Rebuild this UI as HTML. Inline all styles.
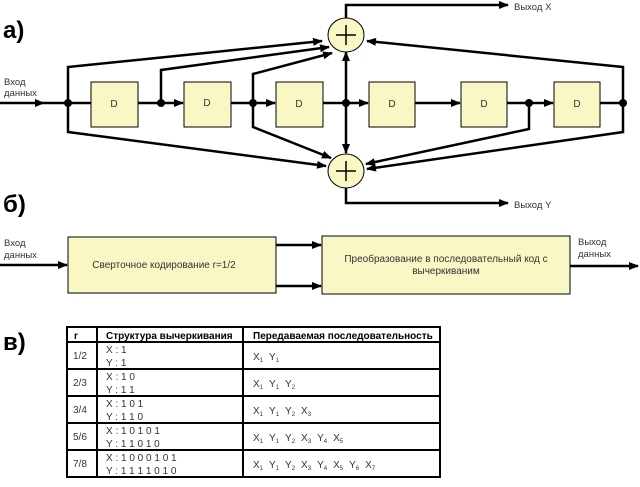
<!DOCTYPE html>
<html><head><meta charset="utf-8"><style>
body{margin:0;background:#fff;width:640px;height:482px;overflow:hidden}
svg text{font-family:"Liberation Sans",sans-serif}
</style></head><body>
<svg width="640" height="482" viewBox="0 0 640 482" xmlns="http://www.w3.org/2000/svg">
<defs><marker id="a" markerWidth="10" markerHeight="8" refX="9" refY="4" orient="auto" markerUnits="userSpaceOnUse"><path d="M0,0 L10,4 L0,8 z" fill="#000"/></marker></defs>
<g font-weight="bold" font-size="24" fill="#000">
<text x="3" y="38">а)</text><text x="3" y="212">б)</text><text x="3" y="350">в)</text></g>
<g stroke="#000" stroke-width="2.5" fill="none">
<line x1="0" y1="103" x2="44" y2="103" marker-end="url(#a)"/>
<line x1="44" y1="103" x2="91" y2="103"/>
<line x1="138" y1="103" x2="183" y2="103" marker-end="url(#a)"/>
<line x1="231" y1="103" x2="275" y2="103" marker-end="url(#a)"/>
<line x1="323" y1="103" x2="368" y2="103" marker-end="url(#a)"/>
<line x1="415" y1="103" x2="460" y2="103" marker-end="url(#a)"/>
<line x1="507" y1="103" x2="553" y2="103" marker-end="url(#a)"/>
<line x1="600" y1="103" x2="623" y2="103"/>
<polyline points="68,103 68,67 322,41" marker-end="url(#a)"/>
<polyline points="161,103 161,70 329,47" marker-end="url(#a)"/>
<polyline points="253,103 253,74 332,53" marker-end="url(#a)"/>
<polyline points="623,103 623,67 367,41" marker-end="url(#a)"/>
<line x1="346" y1="103" x2="346" y2="52" marker-end="url(#a)"/>
<line x1="346" y1="103" x2="346" y2="153" marker-end="url(#a)"/>
<polyline points="68,103 68,132 326,166" marker-end="url(#a)"/>
<polyline points="253,103 253,127 331,158" marker-end="url(#a)"/>
<polyline points="529,103 529,129 366,164" marker-end="url(#a)"/>
<polyline points="623,103 623,132 367,169" marker-end="url(#a)"/>
<polyline points="346,18 346,5 508,5" marker-end="url(#a)"/>
<polyline points="346,187 346,203 508,203" marker-end="url(#a)"/>
</g>
<g fill="#000"><circle cx="68" cy="103" r="4"/><circle cx="161" cy="103" r="4"/><circle cx="253" cy="103" r="4"/><circle cx="346" cy="103" r="4"/><circle cx="529" cy="103" r="4"/><circle cx="623" cy="103" r="4"/></g>
<g fill="#f9f7c4" stroke="#000" stroke-width="1">
<rect x="91" y="82" width="47" height="45"/><rect x="184" y="82" width="47" height="45"/><rect x="276" y="82" width="47" height="45"/><rect x="369" y="82" width="46" height="45"/><rect x="461" y="82" width="46" height="45"/><rect x="554" y="82" width="46" height="45"/>
<ellipse cx="346" cy="35" rx="18" ry="17"/><ellipse cx="346" cy="171" rx="18" ry="17"/>
</g>
<g stroke="#000" stroke-width="1.5"><line x1="336" y1="35" x2="356" y2="35"/><line x1="346" y1="25" x2="346" y2="45"/><line x1="336" y1="171" x2="356" y2="171"/><line x1="346" y1="161" x2="346" y2="181"/></g>
<g font-size="10" fill="#333" text-anchor="middle">
<text x="114" y="107">D</text><text x="207" y="106">D</text><text x="299" y="107">D</text><text x="392" y="107">D</text><text x="484" y="107">D</text><text x="577" y="107">D</text></g>
<g font-size="9.5" fill="#333">
<text x="4" y="85">Вход</text><text x="4" y="96">данных</text>
<text x="514" y="10">Выход X</text><text x="514" y="208">Выход Y</text>
<text x="4" y="246">Вход</text><text x="4" y="258">данных</text>
<text x="578" y="245">Выход</text><text x="578" y="257">данных</text>
</g>
<g stroke="#000" stroke-width="2.5" fill="none">
<line x1="0" y1="265" x2="67" y2="265" marker-end="url(#a)"/>
<line x1="276" y1="245" x2="321" y2="245" marker-end="url(#a)"/>
<line x1="276" y1="286" x2="321" y2="286" marker-end="url(#a)"/>
<line x1="570" y1="266" x2="638" y2="266" marker-end="url(#a)"/>
</g>
<g fill="#f9f7c4" stroke="#000" stroke-width="1"><rect x="68" y="237" width="208" height="56"/><rect x="322" y="236" width="248" height="58"/></g>
<g font-size="10" fill="#333" text-anchor="middle">
<text x="164" y="268">Сверточное кодирование  r=1/2</text>
<text x="446" y="262">Преобразование в последовательный код с</text>
<text x="446" y="274">вычеркиваним</text>
</g>
<g stroke="#000" stroke-width="2" fill="none">
<rect x="67" y="327" width="373" height="150"/>
<line x1="97" y1="327" x2="97" y2="477"/><line x1="243" y1="327" x2="243" y2="477"/>
<line x1="67" y1="342" x2="440" y2="342"/><line x1="67" y1="369" x2="440" y2="369"/><line x1="67" y1="396" x2="440" y2="396"/><line x1="67" y1="423" x2="440" y2="423"/><line x1="67" y1="450" x2="440" y2="450"/>
</g>
<g font-size="10" fill="#000">
<text x="74" y="339" font-weight="bold">r</text>
<text x="106" y="339" font-weight="bold">Структура вычеркивания</text>
<text x="253" y="339" font-weight="bold">Передаваемая последовательность</text>
<g fill="#333">
<text x="73" y="359">1/2</text><text x="73" y="386">2/3</text><text x="73" y="413">3/4</text><text x="73" y="440">5/6</text><text x="73" y="467">7/8</text>
<text x="106" y="353">X : 1</text><text x="106" y="366">Y : 1</text>
<text x="106" y="380">X : 1 0</text><text x="106" y="393">Y : 1 1</text>
<text x="106" y="407">X : 1 0 1</text><text x="106" y="420">Y : 1 1 0</text>
<text x="106" y="434">X : 1 0 1 0 1</text><text x="106" y="447">Y : 1 1 0 1 0</text>
<text x="106" y="461">X : 1 0 0 0 1 0 1</text><text x="106" y="474">Y : 1 1 1 1 0 1 0</text>
<text x="253" y="360">X<tspan font-size="6" dy="2">1</tspan><tspan dx="6" dy="-2">Y</tspan><tspan font-size="6" dy="2">1</tspan></text>
<text x="253" y="387">X<tspan font-size="6" dy="2">1</tspan><tspan dx="6" dy="-2">Y</tspan><tspan font-size="6" dy="2">1</tspan><tspan dx="6" dy="-2">Y</tspan><tspan font-size="6" dy="2">2</tspan></text>
<text x="253" y="414">X<tspan font-size="6" dy="2">1</tspan><tspan dx="6" dy="-2">Y</tspan><tspan font-size="6" dy="2">1</tspan><tspan dx="6" dy="-2">Y</tspan><tspan font-size="6" dy="2">2</tspan><tspan dx="6" dy="-2">X</tspan><tspan font-size="6" dy="2">3</tspan></text>
<text x="253" y="441">X<tspan font-size="6" dy="2">1</tspan><tspan dx="6" dy="-2">Y</tspan><tspan font-size="6" dy="2">1</tspan><tspan dx="6" dy="-2">Y</tspan><tspan font-size="6" dy="2">2</tspan><tspan dx="6" dy="-2">X</tspan><tspan font-size="6" dy="2">3</tspan><tspan dx="6" dy="-2">Y</tspan><tspan font-size="6" dy="2">4</tspan><tspan dx="6" dy="-2">X</tspan><tspan font-size="6" dy="2">5</tspan></text>
<text x="253" y="468">X<tspan font-size="6" dy="2">1</tspan><tspan dx="6" dy="-2">Y</tspan><tspan font-size="6" dy="2">1</tspan><tspan dx="6" dy="-2">Y</tspan><tspan font-size="6" dy="2">2</tspan><tspan dx="6" dy="-2">X</tspan><tspan font-size="6" dy="2">3</tspan><tspan dx="6" dy="-2">Y</tspan><tspan font-size="6" dy="2">4</tspan><tspan dx="6" dy="-2">X</tspan><tspan font-size="6" dy="2">5</tspan><tspan dx="6" dy="-2">Y</tspan><tspan font-size="6" dy="2">6</tspan><tspan dx="6" dy="-2">X</tspan><tspan font-size="6" dy="2">7</tspan></text>
</g></g>
</svg>
</body></html>
